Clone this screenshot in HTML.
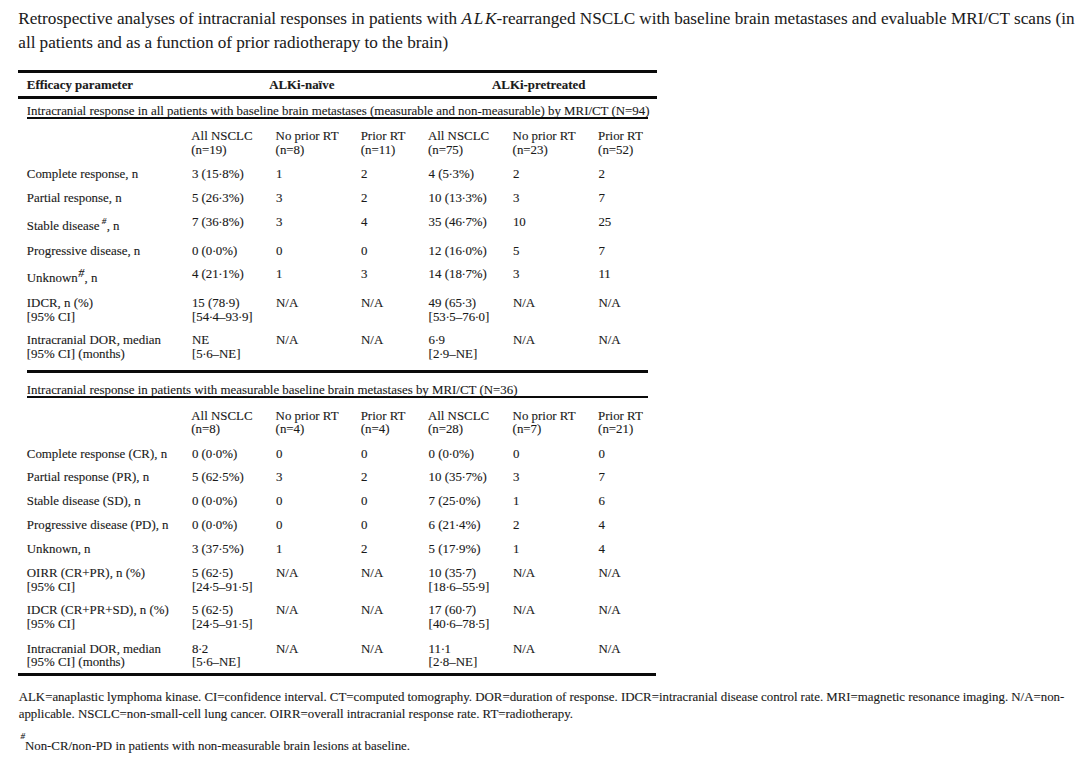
<!DOCTYPE html>
<html><head><meta charset="utf-8"><style>
html,body{margin:0;padding:0;background:#fff;}
body{width:1080px;height:762px;position:relative;overflow:hidden;font-family:"Liberation Serif",serif;color:#1a1a1a;-webkit-text-stroke:0.12px #1a1a1a;}
.t{position:absolute;white-space:nowrap;}
.r{position:absolute;background:#0a0a0a;}
.d{margin-left:-0.4px;letter-spacing:-0.4px;}
sup{font-style:italic;line-height:0;vertical-align:baseline;position:relative;}
sup.s1{font-size:9px;top:-6.5px;margin-left:2.2px;margin-right:0.5px;}
sup.s2{font-size:12px;top:-5px;margin-left:0.5px;margin-right:0.3px;}
</style></head><body>
<div class=t style="left:18.30px;top:10.40px;font-size:17.17px;line-height:17.17px;-webkit-text-stroke:0.05px #1a1a1a">Retrospective analyses of intracranial responses in patients with <i><span style="letter-spacing:1.8px">AL</span>K</i>-rearranged NSCLC with baseline brain metastases and evaluable MRI/CT scans (in</div>
<div class=t style="left:18.30px;top:33.70px;font-size:17.17px;line-height:17.17px;word-spacing:-0.12px;-webkit-text-stroke:0.05px #1a1a1a">all patients and as a function of prior radiotherapy to the brain)</div>
<div class=t style="left:26.80px;top:79.20px;font-size:12.9px;line-height:12.9px;font-weight:700">Efficacy parameter</div>
<div class=t style="left:269.20px;top:79.20px;font-size:12.9px;line-height:12.9px;font-weight:700">ALKi-na&#239;ve</div>
<div class=t style="left:492.00px;top:79.20px;font-size:12.9px;line-height:12.9px;font-weight:700">ALKi-pretreated</div>
<div class=t style="left:26.80px;top:104.70px;font-size:12.9px;line-height:12.9px;">Intracranial response in all patients with baseline brain metastases (measurable and non-measurable) by MRI/CT (N=94)</div>
<div class=t style="left:191.30px;top:130.00px;font-size:12.9px;line-height:12.9px;">All NSCLC</div>
<div class=t style="left:191.30px;top:143.60px;font-size:12.9px;line-height:12.9px;">(n=19)</div>
<div class=t style="left:275.60px;top:130.00px;font-size:12.9px;line-height:12.9px;">No prior RT</div>
<div class=t style="left:275.60px;top:143.60px;font-size:12.9px;line-height:12.9px;">(n=8)</div>
<div class=t style="left:360.70px;top:130.00px;font-size:12.9px;line-height:12.9px;">Prior RT</div>
<div class=t style="left:360.70px;top:143.60px;font-size:12.9px;line-height:12.9px;">(n=11)</div>
<div class=t style="left:427.90px;top:130.00px;font-size:12.9px;line-height:12.9px;">All NSCLC</div>
<div class=t style="left:427.90px;top:143.60px;font-size:12.9px;line-height:12.9px;">(n=75)</div>
<div class=t style="left:512.60px;top:130.00px;font-size:12.9px;line-height:12.9px;">No prior RT</div>
<div class=t style="left:512.60px;top:143.60px;font-size:12.9px;line-height:12.9px;">(n=23)</div>
<div class=t style="left:598.10px;top:130.00px;font-size:12.9px;line-height:12.9px;">Prior RT</div>
<div class=t style="left:598.10px;top:143.60px;font-size:12.9px;line-height:12.9px;">(n=52)</div>
<div class=t style="left:26.80px;top:167.80px;font-size:12.9px;line-height:12.9px;">Complete response, n</div>
<div class=t style="left:191.90px;top:167.80px;font-size:12.9px;line-height:12.9px;">3 (15<span class=d>&#183;</span>8%)</div>
<div class=t style="left:276.00px;top:167.80px;font-size:12.9px;line-height:12.9px;">1</div>
<div class=t style="left:361.00px;top:167.80px;font-size:12.9px;line-height:12.9px;">2</div>
<div class=t style="left:428.60px;top:167.80px;font-size:12.9px;line-height:12.9px;">4 (5<span class=d>&#183;</span>3%)</div>
<div class=t style="left:512.90px;top:167.80px;font-size:12.9px;line-height:12.9px;">2</div>
<div class=t style="left:598.40px;top:167.80px;font-size:12.9px;line-height:12.9px;">2</div>
<div class=t style="left:26.80px;top:191.80px;font-size:12.9px;line-height:12.9px;">Partial response, n</div>
<div class=t style="left:191.90px;top:191.80px;font-size:12.9px;line-height:12.9px;">5 (26<span class=d>&#183;</span>3%)</div>
<div class=t style="left:276.00px;top:191.80px;font-size:12.9px;line-height:12.9px;">3</div>
<div class=t style="left:361.00px;top:191.80px;font-size:12.9px;line-height:12.9px;">2</div>
<div class=t style="left:428.60px;top:191.80px;font-size:12.9px;line-height:12.9px;">10 (13<span class=d>&#183;</span>3%)</div>
<div class=t style="left:512.90px;top:191.80px;font-size:12.9px;line-height:12.9px;">3</div>
<div class=t style="left:598.40px;top:191.80px;font-size:12.9px;line-height:12.9px;">7</div>
<div class=t style="left:26.80px;top:220.00px;font-size:12.9px;line-height:12.9px;">Stable disease<sup class=s1>#</sup>, n</div>
<div class=t style="left:191.90px;top:216.20px;font-size:12.9px;line-height:12.9px;">7 (36<span class=d>&#183;</span>8%)</div>
<div class=t style="left:276.00px;top:216.20px;font-size:12.9px;line-height:12.9px;">3</div>
<div class=t style="left:361.00px;top:216.20px;font-size:12.9px;line-height:12.9px;">4</div>
<div class=t style="left:428.60px;top:216.20px;font-size:12.9px;line-height:12.9px;">35 (46<span class=d>&#183;</span>7%)</div>
<div class=t style="left:512.90px;top:216.20px;font-size:12.9px;line-height:12.9px;">10</div>
<div class=t style="left:598.40px;top:216.20px;font-size:12.9px;line-height:12.9px;">25</div>
<div class=t style="left:26.80px;top:244.50px;font-size:12.9px;line-height:12.9px;">Progressive disease, n</div>
<div class=t style="left:191.90px;top:244.50px;font-size:12.9px;line-height:12.9px;">0 (0<span class=d>&#183;</span>0%)</div>
<div class=t style="left:276.00px;top:244.50px;font-size:12.9px;line-height:12.9px;">0</div>
<div class=t style="left:361.00px;top:244.50px;font-size:12.9px;line-height:12.9px;">0</div>
<div class=t style="left:428.60px;top:244.50px;font-size:12.9px;line-height:12.9px;">12 (16<span class=d>&#183;</span>0%)</div>
<div class=t style="left:512.90px;top:244.50px;font-size:12.9px;line-height:12.9px;">5</div>
<div class=t style="left:598.40px;top:244.50px;font-size:12.9px;line-height:12.9px;">7</div>
<div class=t style="left:26.80px;top:272.00px;font-size:12.9px;line-height:12.9px;">Unknown<sup class=s2>#</sup>, n</div>
<div class=t style="left:191.90px;top:267.80px;font-size:12.9px;line-height:12.9px;">4 (21<span class=d>&#183;</span>1%)</div>
<div class=t style="left:276.00px;top:267.80px;font-size:12.9px;line-height:12.9px;">1</div>
<div class=t style="left:361.00px;top:267.80px;font-size:12.9px;line-height:12.9px;">3</div>
<div class=t style="left:428.60px;top:267.80px;font-size:12.9px;line-height:12.9px;">14 (18<span class=d>&#183;</span>7%)</div>
<div class=t style="left:512.90px;top:267.80px;font-size:12.9px;line-height:12.9px;">3</div>
<div class=t style="left:598.40px;top:267.80px;font-size:12.9px;line-height:12.9px;">11</div>
<div class=t style="left:26.80px;top:296.90px;font-size:12.9px;line-height:12.9px;">IDCR, n (%)</div>
<div class=t style="left:26.80px;top:310.50px;font-size:12.9px;line-height:12.9px;">[95% CI]</div>
<div class=t style="left:191.90px;top:296.90px;font-size:12.9px;line-height:12.9px;">15 (78<span class=d>&#183;</span>9)</div>
<div class=t style="left:191.90px;top:310.50px;font-size:12.9px;line-height:12.9px;">[54<span class=d>&#183;</span>4&#8211;93<span class=d>&#183;</span>9]</div>
<div class=t style="left:276.00px;top:296.90px;font-size:12.9px;line-height:12.9px;">N/A</div>
<div class=t style="left:361.00px;top:296.90px;font-size:12.9px;line-height:12.9px;">N/A</div>
<div class=t style="left:428.60px;top:296.90px;font-size:12.9px;line-height:12.9px;">49 (65<span class=d>&#183;</span>3)</div>
<div class=t style="left:428.60px;top:310.50px;font-size:12.9px;line-height:12.9px;">[53<span class=d>&#183;</span>5&#8211;76<span class=d>&#183;</span>0]</div>
<div class=t style="left:512.90px;top:296.90px;font-size:12.9px;line-height:12.9px;">N/A</div>
<div class=t style="left:598.40px;top:296.90px;font-size:12.9px;line-height:12.9px;">N/A</div>
<div class=t style="left:26.80px;top:334.30px;font-size:12.9px;line-height:12.9px;">Intracranial DOR, median</div>
<div class=t style="left:26.80px;top:347.90px;font-size:12.9px;line-height:12.9px;">[95% CI] (months)</div>
<div class=t style="left:191.90px;top:334.30px;font-size:12.9px;line-height:12.9px;">NE</div>
<div class=t style="left:191.90px;top:347.90px;font-size:12.9px;line-height:12.9px;">[5<span class=d>&#183;</span>6&#8211;NE]</div>
<div class=t style="left:276.00px;top:334.30px;font-size:12.9px;line-height:12.9px;">N/A</div>
<div class=t style="left:361.00px;top:334.30px;font-size:12.9px;line-height:12.9px;">N/A</div>
<div class=t style="left:428.60px;top:334.30px;font-size:12.9px;line-height:12.9px;">6<span class=d>&#183;</span>9</div>
<div class=t style="left:428.60px;top:347.90px;font-size:12.9px;line-height:12.9px;">[2<span class=d>&#183;</span>9&#8211;NE]</div>
<div class=t style="left:512.90px;top:334.30px;font-size:12.9px;line-height:12.9px;">N/A</div>
<div class=t style="left:598.40px;top:334.30px;font-size:12.9px;line-height:12.9px;">N/A</div>
<div class=t style="left:26.80px;top:383.50px;font-size:12.9px;line-height:12.9px;">Intracranial response in patients with measurable baseline brain metastases by MRI/CT (N=36)</div>
<div class=t style="left:191.30px;top:409.50px;font-size:12.9px;line-height:12.9px;">All NSCLC</div>
<div class=t style="left:191.30px;top:423.10px;font-size:12.9px;line-height:12.9px;">(n=8)</div>
<div class=t style="left:275.60px;top:409.50px;font-size:12.9px;line-height:12.9px;">No prior RT</div>
<div class=t style="left:275.60px;top:423.10px;font-size:12.9px;line-height:12.9px;">(n=4)</div>
<div class=t style="left:360.70px;top:409.50px;font-size:12.9px;line-height:12.9px;">Prior RT</div>
<div class=t style="left:360.70px;top:423.10px;font-size:12.9px;line-height:12.9px;">(n=4)</div>
<div class=t style="left:427.90px;top:409.50px;font-size:12.9px;line-height:12.9px;">All NSCLC</div>
<div class=t style="left:427.90px;top:423.10px;font-size:12.9px;line-height:12.9px;">(n=28)</div>
<div class=t style="left:512.60px;top:409.50px;font-size:12.9px;line-height:12.9px;">No prior RT</div>
<div class=t style="left:512.60px;top:423.10px;font-size:12.9px;line-height:12.9px;">(n=7)</div>
<div class=t style="left:598.10px;top:409.50px;font-size:12.9px;line-height:12.9px;">Prior RT</div>
<div class=t style="left:598.10px;top:423.10px;font-size:12.9px;line-height:12.9px;">(n=21)</div>
<div class=t style="left:26.80px;top:447.70px;font-size:12.9px;line-height:12.9px;">Complete response (CR), n</div>
<div class=t style="left:191.90px;top:447.70px;font-size:12.9px;line-height:12.9px;">0 (0<span class=d>&#183;</span>0%)</div>
<div class=t style="left:276.00px;top:447.70px;font-size:12.9px;line-height:12.9px;">0</div>
<div class=t style="left:361.00px;top:447.70px;font-size:12.9px;line-height:12.9px;">0</div>
<div class=t style="left:428.60px;top:447.70px;font-size:12.9px;line-height:12.9px;">0 (0<span class=d>&#183;</span>0%)</div>
<div class=t style="left:512.90px;top:447.70px;font-size:12.9px;line-height:12.9px;">0</div>
<div class=t style="left:598.40px;top:447.70px;font-size:12.9px;line-height:12.9px;">0</div>
<div class=t style="left:26.80px;top:471.40px;font-size:12.9px;line-height:12.9px;">Partial response (PR), n</div>
<div class=t style="left:191.90px;top:471.40px;font-size:12.9px;line-height:12.9px;">5 (62<span class=d>&#183;</span>5%)</div>
<div class=t style="left:276.00px;top:471.40px;font-size:12.9px;line-height:12.9px;">3</div>
<div class=t style="left:361.00px;top:471.40px;font-size:12.9px;line-height:12.9px;">2</div>
<div class=t style="left:428.60px;top:471.40px;font-size:12.9px;line-height:12.9px;">10 (35<span class=d>&#183;</span>7%)</div>
<div class=t style="left:512.90px;top:471.40px;font-size:12.9px;line-height:12.9px;">3</div>
<div class=t style="left:598.40px;top:471.40px;font-size:12.9px;line-height:12.9px;">7</div>
<div class=t style="left:26.80px;top:495.00px;font-size:12.9px;line-height:12.9px;">Stable disease (SD), n</div>
<div class=t style="left:191.90px;top:495.00px;font-size:12.9px;line-height:12.9px;">0 (0<span class=d>&#183;</span>0%)</div>
<div class=t style="left:276.00px;top:495.00px;font-size:12.9px;line-height:12.9px;">0</div>
<div class=t style="left:361.00px;top:495.00px;font-size:12.9px;line-height:12.9px;">0</div>
<div class=t style="left:428.60px;top:495.00px;font-size:12.9px;line-height:12.9px;">7 (25<span class=d>&#183;</span>0%)</div>
<div class=t style="left:512.90px;top:495.00px;font-size:12.9px;line-height:12.9px;">1</div>
<div class=t style="left:598.40px;top:495.00px;font-size:12.9px;line-height:12.9px;">6</div>
<div class=t style="left:26.80px;top:519.00px;font-size:12.9px;line-height:12.9px;">Progressive disease (PD), n</div>
<div class=t style="left:191.90px;top:519.00px;font-size:12.9px;line-height:12.9px;">0 (0<span class=d>&#183;</span>0%)</div>
<div class=t style="left:276.00px;top:519.00px;font-size:12.9px;line-height:12.9px;">0</div>
<div class=t style="left:361.00px;top:519.00px;font-size:12.9px;line-height:12.9px;">0</div>
<div class=t style="left:428.60px;top:519.00px;font-size:12.9px;line-height:12.9px;">6 (21<span class=d>&#183;</span>4%)</div>
<div class=t style="left:512.90px;top:519.00px;font-size:12.9px;line-height:12.9px;">2</div>
<div class=t style="left:598.40px;top:519.00px;font-size:12.9px;line-height:12.9px;">4</div>
<div class=t style="left:26.80px;top:542.70px;font-size:12.9px;line-height:12.9px;">Unknown, n</div>
<div class=t style="left:191.90px;top:542.70px;font-size:12.9px;line-height:12.9px;">3 (37<span class=d>&#183;</span>5%)</div>
<div class=t style="left:276.00px;top:542.70px;font-size:12.9px;line-height:12.9px;">1</div>
<div class=t style="left:361.00px;top:542.70px;font-size:12.9px;line-height:12.9px;">2</div>
<div class=t style="left:428.60px;top:542.70px;font-size:12.9px;line-height:12.9px;">5 (17<span class=d>&#183;</span>9%)</div>
<div class=t style="left:512.90px;top:542.70px;font-size:12.9px;line-height:12.9px;">1</div>
<div class=t style="left:598.40px;top:542.70px;font-size:12.9px;line-height:12.9px;">4</div>
<div class=t style="left:26.80px;top:567.10px;font-size:12.9px;line-height:12.9px;">OIRR (CR+PR), n (%)</div>
<div class=t style="left:26.80px;top:580.70px;font-size:12.9px;line-height:12.9px;">[95% CI]</div>
<div class=t style="left:191.90px;top:567.10px;font-size:12.9px;line-height:12.9px;">5 (62<span class=d>&#183;</span>5)</div>
<div class=t style="left:191.90px;top:580.70px;font-size:12.9px;line-height:12.9px;">[24<span class=d>&#183;</span>5&#8211;91<span class=d>&#183;</span>5]</div>
<div class=t style="left:276.00px;top:567.10px;font-size:12.9px;line-height:12.9px;">N/A</div>
<div class=t style="left:361.00px;top:567.10px;font-size:12.9px;line-height:12.9px;">N/A</div>
<div class=t style="left:428.60px;top:567.10px;font-size:12.9px;line-height:12.9px;">10 (35<span class=d>&#183;</span>7)</div>
<div class=t style="left:428.60px;top:580.70px;font-size:12.9px;line-height:12.9px;">[18<span class=d>&#183;</span>6&#8211;55<span class=d>&#183;</span>9]</div>
<div class=t style="left:512.90px;top:567.10px;font-size:12.9px;line-height:12.9px;">N/A</div>
<div class=t style="left:598.40px;top:567.10px;font-size:12.9px;line-height:12.9px;">N/A</div>
<div class=t style="left:26.80px;top:604.30px;font-size:12.9px;line-height:12.9px;">IDCR (CR+PR+SD), n (%)</div>
<div class=t style="left:26.80px;top:617.90px;font-size:12.9px;line-height:12.9px;">[95% CI]</div>
<div class=t style="left:191.90px;top:604.30px;font-size:12.9px;line-height:12.9px;">5 (62<span class=d>&#183;</span>5)</div>
<div class=t style="left:191.90px;top:617.90px;font-size:12.9px;line-height:12.9px;">[24<span class=d>&#183;</span>5&#8211;91<span class=d>&#183;</span>5]</div>
<div class=t style="left:276.00px;top:604.30px;font-size:12.9px;line-height:12.9px;">N/A</div>
<div class=t style="left:361.00px;top:604.30px;font-size:12.9px;line-height:12.9px;">N/A</div>
<div class=t style="left:428.60px;top:604.30px;font-size:12.9px;line-height:12.9px;">17 (60<span class=d>&#183;</span>7)</div>
<div class=t style="left:428.60px;top:617.90px;font-size:12.9px;line-height:12.9px;">[40<span class=d>&#183;</span>6&#8211;78<span class=d>&#183;</span>5]</div>
<div class=t style="left:512.90px;top:604.30px;font-size:12.9px;line-height:12.9px;">N/A</div>
<div class=t style="left:598.40px;top:604.30px;font-size:12.9px;line-height:12.9px;">N/A</div>
<div class=t style="left:26.80px;top:642.60px;font-size:12.9px;line-height:12.9px;">Intracranial DOR, median</div>
<div class=t style="left:26.80px;top:656.20px;font-size:12.9px;line-height:12.9px;">[95% CI] (months)</div>
<div class=t style="left:191.90px;top:642.60px;font-size:12.9px;line-height:12.9px;">8<span class=d>&#183;</span>2</div>
<div class=t style="left:191.90px;top:656.20px;font-size:12.9px;line-height:12.9px;">[5<span class=d>&#183;</span>6&#8211;NE]</div>
<div class=t style="left:276.00px;top:642.60px;font-size:12.9px;line-height:12.9px;">N/A</div>
<div class=t style="left:361.00px;top:642.60px;font-size:12.9px;line-height:12.9px;">N/A</div>
<div class=t style="left:428.60px;top:642.60px;font-size:12.9px;line-height:12.9px;">11<span class=d>&#183;</span>1</div>
<div class=t style="left:428.60px;top:656.20px;font-size:12.9px;line-height:12.9px;">[2<span class=d>&#183;</span>8&#8211;NE]</div>
<div class=t style="left:512.90px;top:642.60px;font-size:12.9px;line-height:12.9px;">N/A</div>
<div class=t style="left:598.40px;top:642.60px;font-size:12.9px;line-height:12.9px;">N/A</div>
<div class=t style="left:18.70px;top:690.90px;font-size:12.88px;line-height:12.88px;word-spacing:-0.09px">ALK=anaplastic lymphoma kinase. CI=confidence interval. CT=computed tomography. DOR=duration of response. IDCR=intracranial disease control rate. MRI=magnetic resonance imaging. N/A=non-</div>
<div class=t style="left:18.70px;top:707.60px;font-size:12.88px;line-height:12.88px;">applicable. NSCLC=non-small-cell lung cancer. OIRR=overall intracranial response rate. RT=radiotherapy.</div>
<div class=t style="left:20.60px;top:732.00px;font-size:9px;line-height:9px;"><i>#</i></div>
<div class=t style="left:24.90px;top:739.80px;font-size:12.88px;line-height:12.88px;">Non-CR/non-PD in patients with non-measurable brain lesions at baseline.</div>
<div class=r style="left:18.3px;top:70.3px;width:638.6px;height:2.4px"></div>
<div class=r style="left:18.3px;top:95.8px;width:638.6px;height:2.9px"></div>
<div class=r style="left:26.7px;top:117.0px;width:621.6px;height:2.0px"></div>
<div class=r style="left:26.8px;top:369.9px;width:621.2px;height:3.3px"></div>
<div class=r style="left:26.9px;top:396.4px;width:620.7px;height:1.9px"></div>
<div class=r style="left:18.3px;top:672.9px;width:637.4px;height:3.1px"></div>
</body></html>
